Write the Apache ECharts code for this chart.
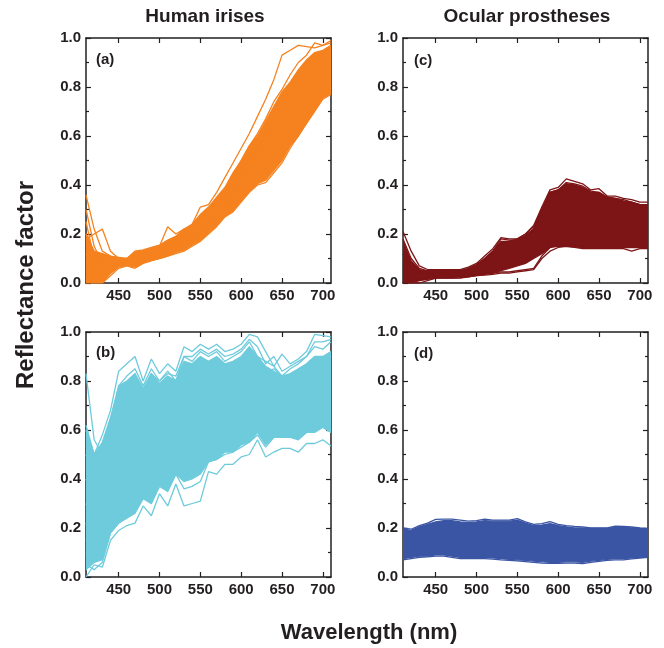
<!DOCTYPE html>
<html><head><meta charset="utf-8">
<script src="https://cdn.jsdelivr.net/npm/echarts@6/dist/echarts.min.js"></script>
<style>html,body{margin:0;padding:0;background:#fff}#c{width:664px;height:648px}</style>
</head><body><div id="c"></div>
<script>
// ---------- data ----------
const wavelengths = [410,420,430,440,450,460,470,480,490,500,510,520,530,540,550,560,570,580,590,600,610,620,630,640,650,660,670,680,690,700,710];
const xTickValues = [450,500,550,600,650,700];
const columnTitles = ['Human irises','Ocular prostheses'];
const panelLetters = ['(a)','(c)','(b)','(d)'];

// (a) Human irises – orange: dense core envelope + individual spectra
const irisALow  = [0.0,0.0,0.0,0.04,0.065,0.072,0.065,0.082,0.092,0.1,0.11,0.125,0.135,0.155,0.175,0.205,0.235,0.27,0.295,0.335,0.375,0.405,0.42,0.46,0.5,0.56,0.6,0.655,0.705,0.755,0.775];
const irisAHigh = [0.2,0.13,0.12,0.11,0.105,0.1,0.13,0.135,0.145,0.155,0.175,0.19,0.22,0.24,0.28,0.31,0.35,0.39,0.45,0.5,0.56,0.6,0.66,0.72,0.78,0.82,0.87,0.91,0.94,0.95,0.97];
const irisA1 = [0.36,0.22,0.13,0.11,0.1,0.1,0.12,0.13,0.14,0.15,0.17,0.19,0.21,0.24,0.31,0.32,0.37,0.43,0.49,0.55,0.61,0.68,0.75,0.83,0.93,0.95,0.97,0.965,0.96,0.97,0.98];
const irisA2 = [0.18,0.2,0.22,0.13,0.1,0.09,0.11,0.12,0.14,0.15,0.23,0.2,0.22,0.23,0.26,0.29,0.33,0.38,0.44,0.5,0.56,0.61,0.67,0.74,0.79,0.85,0.9,0.93,0.98,0.97,0.99];
const irisA3 = [0.0,0.0,0.0,0.03,0.06,0.07,0.06,0.08,0.09,0.1,0.11,0.12,0.13,0.15,0.17,0.2,0.23,0.27,0.29,0.33,0.37,0.4,0.41,0.45,0.49,0.55,0.6,0.65,0.7,0.75,0.77];
const irisA4 = [0.25,0.1,0.05,0.06,0.08,0.08,0.09,0.1,0.11,0.12,0.14,0.16,0.18,0.2,0.22,0.25,0.29,0.33,0.38,0.43,0.49,0.55,0.61,0.67,0.73,0.79,0.84,0.88,0.91,0.93,0.95];
const irisA5 = [0.05,0.02,0.01,0.04,0.07,0.08,0.08,0.09,0.1,0.11,0.12,0.14,0.15,0.17,0.19,0.22,0.25,0.29,0.32,0.36,0.41,0.44,0.47,0.52,0.56,0.6,0.63,0.69,0.75,0.8,0.82];
const irisA6 = [0.12,0.06,0.03,0.05,0.08,0.09,0.1,0.11,0.12,0.13,0.15,0.17,0.19,0.22,0.24,0.27,0.31,0.35,0.39,0.45,0.51,0.56,0.6,0.63,0.7,0.76,0.81,0.84,0.88,0.9,0.92];
const irisA7 = [0.3,0.15,0.08,0.07,0.09,0.09,0.11,0.12,0.13,0.14,0.16,0.18,0.2,0.22,0.26,0.3,0.33,0.37,0.42,0.46,0.5,0.54,0.58,0.63,0.67,0.71,0.76,0.8,0.84,0.88,0.9];
const irisA8 = [0.08,0.04,0.02,0.05,0.07,0.08,0.07,0.09,0.1,0.11,0.13,0.15,0.16,0.18,0.2,0.23,0.27,0.31,0.36,0.4,0.45,0.48,0.52,0.57,0.61,0.64,0.67,0.72,0.79,0.85,0.87];
const irisA9 = [0.2,0.12,0.06,0.06,0.08,0.085,0.1,0.11,0.12,0.13,0.15,0.16,0.17,0.19,0.21,0.24,0.28,0.32,0.36,0.41,0.46,0.52,0.56,0.6,0.64,0.68,0.72,0.78,0.83,0.8,0.78];

// (c) Ocular prostheses – dark red
const prosCLow  = [0.0,0.0,0.01,0.015,0.02,0.02,0.02,0.022,0.025,0.03,0.035,0.04,0.05,0.06,0.07,0.08,0.1,0.12,0.145,0.15,0.15,0.148,0.145,0.145,0.145,0.145,0.145,0.145,0.145,0.145,0.145];
const prosCHigh = [0.17,0.09,0.055,0.048,0.05,0.05,0.05,0.05,0.058,0.072,0.1,0.13,0.17,0.17,0.175,0.195,0.22,0.3,0.37,0.38,0.405,0.4,0.39,0.37,0.37,0.35,0.345,0.335,0.33,0.32,0.32];
const prosC1 = [0.21,0.13,0.07,0.055,0.055,0.055,0.055,0.055,0.065,0.08,0.11,0.14,0.185,0.18,0.18,0.2,0.235,0.31,0.38,0.39,0.425,0.415,0.405,0.38,0.385,0.355,0.355,0.345,0.34,0.33,0.33];
const prosC2 = [0.18,0.1,0.06,0.05,0.05,0.05,0.05,0.05,0.06,0.075,0.1,0.13,0.18,0.175,0.175,0.19,0.22,0.3,0.37,0.38,0.41,0.405,0.395,0.375,0.37,0.35,0.345,0.34,0.33,0.32,0.32];
const prosC3 = [0.0,0.0,0.0,0.01,0.02,0.02,0.02,0.02,0.025,0.03,0.032,0.035,0.04,0.04,0.045,0.05,0.055,0.1,0.13,0.145,0.15,0.145,0.14,0.14,0.14,0.14,0.14,0.14,0.13,0.14,0.14];
const prosC4 = [0.05,0.02,0.01,0.02,0.025,0.025,0.025,0.028,0.03,0.035,0.038,0.04,0.045,0.045,0.05,0.055,0.06,0.11,0.145,0.155,0.16,0.155,0.15,0.15,0.15,0.15,0.15,0.155,0.15,0.15,0.15];
const prosC5 = [0.12,0.06,0.04,0.04,0.045,0.045,0.045,0.05,0.055,0.07,0.09,0.12,0.16,0.17,0.18,0.2,0.23,0.3,0.36,0.37,0.4,0.4,0.38,0.365,0.36,0.345,0.34,0.33,0.325,0.32,0.31];

// (b) Human irises – light blue
const irisBLow  = [0.03,0.06,0.07,0.18,0.22,0.24,0.26,0.32,0.3,0.37,0.35,0.42,0.39,0.4,0.42,0.47,0.48,0.51,0.51,0.54,0.55,0.59,0.54,0.57,0.57,0.57,0.56,0.59,0.59,0.61,0.59];
const irisBHigh = [0.6,0.5,0.55,0.65,0.78,0.8,0.83,0.77,0.83,0.79,0.82,0.8,0.88,0.87,0.9,0.88,0.9,0.87,0.88,0.9,0.94,0.9,0.86,0.84,0.82,0.83,0.85,0.87,0.9,0.9,0.92];
const irisB1  = [0.62,0.5,0.58,0.68,0.84,0.87,0.9,0.8,0.89,0.83,0.87,0.84,0.94,0.92,0.95,0.93,0.95,0.92,0.93,0.95,0.99,0.98,0.92,0.86,0.91,0.87,0.89,0.92,0.99,0.985,0.98];
const irisB2  = [0.83,0.56,0.5,0.6,0.78,0.82,0.85,0.78,0.85,0.8,0.84,0.8,0.9,0.88,0.92,0.9,0.92,0.88,0.9,0.92,0.96,0.9,0.88,0.86,0.82,0.85,0.87,0.9,0.94,0.93,0.96];
const irisB3  = [0.0,0.05,0.04,0.15,0.19,0.21,0.22,0.29,0.25,0.34,0.29,0.38,0.29,0.3,0.31,0.43,0.42,0.46,0.46,0.49,0.5,0.56,0.49,0.51,0.525,0.525,0.51,0.545,0.545,0.56,0.535];
const irisB4  = [0.3,0.2,0.25,0.35,0.45,0.5,0.52,0.55,0.58,0.6,0.62,0.63,0.66,0.68,0.7,0.7,0.72,0.72,0.73,0.74,0.78,0.76,0.72,0.74,0.73,0.74,0.75,0.76,0.78,0.8,0.8];
const irisB5  = [0.15,0.1,0.1,0.22,0.28,0.32,0.35,0.4,0.4,0.45,0.45,0.5,0.48,0.5,0.52,0.55,0.56,0.58,0.6,0.61,0.64,0.65,0.6,0.62,0.63,0.64,0.64,0.66,0.66,0.68,0.68];
const irisB6  = [0.5,0.4,0.45,0.55,0.68,0.72,0.76,0.72,0.78,0.76,0.8,0.79,0.86,0.85,0.88,0.87,0.88,0.85,0.87,0.88,0.93,0.88,0.83,0.85,0.82,0.82,0.83,0.85,0.88,0.88,0.9];
const irisB7  = [0.05,0.03,0.06,0.18,0.22,0.25,0.27,0.33,0.3,0.38,0.35,0.42,0.36,0.37,0.39,0.47,0.48,0.5,0.51,0.53,0.55,0.58,0.53,0.57,0.57,0.57,0.57,0.59,0.6,0.62,0.6];
const irisB8  = [0.4,0.3,0.35,0.45,0.58,0.62,0.66,0.65,0.68,0.7,0.72,0.72,0.77,0.78,0.8,0.79,0.8,0.78,0.8,0.81,0.85,0.82,0.78,0.8,0.78,0.79,0.8,0.82,0.84,0.85,0.86];
const irisB9  = [0.22,0.15,0.18,0.28,0.36,0.4,0.43,0.47,0.48,0.52,0.52,0.56,0.55,0.58,0.6,0.62,0.63,0.64,0.66,0.67,0.7,0.7,0.66,0.68,0.68,0.69,0.69,0.7,0.72,0.74,0.74];
const irisB10 = [0.6,0.48,0.52,0.62,0.75,0.78,0.82,0.76,0.83,0.8,0.83,0.82,0.9,0.9,0.93,0.91,0.93,0.9,0.91,0.93,0.97,0.94,0.87,0.9,0.84,0.86,0.88,0.9,0.96,0.96,0.97];
const irisB11 = [0.1,0.06,0.08,0.2,0.25,0.28,0.3,0.36,0.34,0.4,0.38,0.45,0.41,0.43,0.45,0.5,0.52,0.54,0.55,0.57,0.6,0.61,0.56,0.59,0.6,0.6,0.6,0.62,0.63,0.64,0.63];

// (d) Ocular prostheses – dark blue
const prosDLow  = [0.075,0.08,0.085,0.085,0.09,0.09,0.085,0.08,0.08,0.08,0.08,0.078,0.075,0.072,0.07,0.068,0.065,0.062,0.06,0.06,0.062,0.062,0.06,0.065,0.068,0.072,0.075,0.075,0.078,0.08,0.082];
const prosDHigh = [0.195,0.19,0.205,0.215,0.225,0.23,0.23,0.225,0.222,0.225,0.23,0.228,0.228,0.228,0.232,0.22,0.21,0.212,0.218,0.21,0.205,0.2,0.2,0.198,0.198,0.198,0.202,0.202,0.2,0.198,0.195];
const prosD1 = [0.2,0.195,0.21,0.22,0.235,0.236,0.236,0.232,0.228,0.23,0.236,0.232,0.232,0.232,0.238,0.225,0.215,0.218,0.226,0.215,0.21,0.207,0.205,0.2,0.2,0.2,0.208,0.207,0.204,0.2,0.198];
const prosD2 = [0.07,0.075,0.08,0.082,0.085,0.085,0.08,0.075,0.075,0.075,0.075,0.073,0.07,0.068,0.066,0.063,0.06,0.057,0.056,0.056,0.057,0.057,0.055,0.06,0.064,0.068,0.07,0.07,0.074,0.077,0.08];

// ---------- layout / style ----------
const panels = [
  {grid:{left:86, top:38, width:245, height:245}, color:'#F5821F', low:irisALow, high:irisAHigh,
   lines:[irisA1,irisA2,irisA3,irisA4,irisA5,irisA6,irisA7,irisA8,irisA9], label:[96,52]},
  {grid:{left:403, top:38, width:245, height:245}, color:'#7D1416', low:prosCLow, high:prosCHigh,
   lines:[prosC1,prosC2,prosC3,prosC4,prosC5], label:[414,53]},
  {grid:{left:86, top:332, width:245, height:245}, color:'#6DCBDC', low:irisBLow, high:irisBHigh,
   lines:[irisB1,irisB2,irisB3,irisB4,irisB5,irisB6,irisB7,irisB8,irisB9,irisB10,irisB11], label:[96,345]},
  {grid:{left:403, top:332, width:245, height:245}, color:'#3A55A4', low:prosDLow, high:prosDHigh,
   lines:[prosD1,prosD2], label:[414,346]}
];

const ink = '#231F20';
const FONT = '"Liberation Sans", Arial, Helvetica, sans-serif';
const pair = arr => wavelengths.map((w, i) => [w, arr[i]]);

const grid = [], xAxis = [], yAxis = [], series = [], graphic = [];
panels.forEach((p, gi) => {
  grid.push(Object.assign({containLabel:false}, p.grid));
  const xBase = {
    type:'value', gridIndex:gi, min:410, max:710,
    axisLine:{show:true, onZero:false, lineStyle:{color:ink, width:1.5}},
    axisTick:{show:true, inside:true, length:5, customValues:xTickValues, lineStyle:{color:ink, width:1.2}},
    splitLine:{show:false}
  };
  xAxis.push(Object.assign({}, xBase, {position:'bottom',
    axisLabel:{show:true, customValues:xTickValues, margin:5, fontSize:15, fontWeight:'bold', color:ink, fontFamily:FONT}}));
  xAxis.push(Object.assign({}, xBase, {position:'top', axisLabel:{show:false}}));
  const yBase = {
    type:'value', gridIndex:gi, min:0, max:1, interval:0.2,
    axisLine:{show:true, onZero:false, lineStyle:{color:ink, width:1.5}},
    axisTick:{show:true, inside:true, length:5, lineStyle:{color:ink, width:1.2}},
    minorTick:{show:true, splitNumber:2, length:3, lineStyle:{color:ink, width:1.2}},
    splitLine:{show:false}, minorSplitLine:{show:false}
  };
  yAxis.push(Object.assign({}, yBase, {position:'left',
    axisLabel:{show:true, margin:5, fontSize:15, fontWeight:'bold', color:ink, fontFamily:FONT,
      formatter: v => v.toFixed(1)}}));
  yAxis.push(Object.assign({}, yBase, {position:'right', axisLabel:{show:false}}));

  const xi = gi * 2, yi = gi * 2;
  // dense core of overlapping spectra: filled polygon between lower and upper envelope
  const bandRows = wavelengths.map((w, i) => [w, p.low[i], p.high[i]]);
  series.push({
    type:'custom', coordinateSystem:'cartesian2d', xAxisIndex:xi, yAxisIndex:yi,
    data:bandRows, silent:true, z:2, clip:true,
    encode:{x:0, y:[1,2]},
    renderItem:(params, api) => {
      if (params.dataIndex !== 0) return null;
      const upper = bandRows.map(r => api.coord([r[0], r[2]]));
      const lower = bandRows.map(r => api.coord([r[0], r[1]])).reverse();
      return {type:'polygon', shape:{points: upper.concat(lower)},
        style:{fill:p.color, stroke:p.color, lineWidth:1.3}};
    }
  });
  p.lines.forEach(arr => {
    series.push({type:'line', xAxisIndex:xi, yAxisIndex:yi, data:pair(arr),
      showSymbol:false, symbol:'none', silent:true, lineStyle:{width:1.3, color:p.color}, z:3});
  });
  graphic.push({type:'text', left:p.label[0], top:p.label[1], z:10,
    style:{text:panelLetters[gi], font:'bold 15px ' + FONT, fill:ink}});
});

graphic.push({type:'text', x:205, y:17, z:10,
  style:{text:columnTitles[0], font:'bold 19px ' + FONT, fill:ink, align:'center', verticalAlign:'middle'}});
graphic.push({type:'text', x:527, y:17, z:10,
  style:{text:columnTitles[1], font:'bold 19px ' + FONT, fill:ink, align:'center', verticalAlign:'middle'}});
graphic.push({type:'text', x:369, y:633, z:10,
  style:{text:'Wavelength (nm)', font:'bold 22px ' + FONT, fill:ink, align:'center', verticalAlign:'middle'}});
graphic.push({type:'text', x:26, y:285, rotation:Math.PI/2, z:10,
  style:{text:'Reflectance factor', font:'bold 24px ' + FONT, fill:ink, align:'center', verticalAlign:'middle'}});

const chart = echarts.init(document.getElementById('c'), null, {renderer:'canvas'});
chart.setOption({animation:false, backgroundColor:'#fff', grid, xAxis, yAxis, series, graphic});
</script>
</body></html>
